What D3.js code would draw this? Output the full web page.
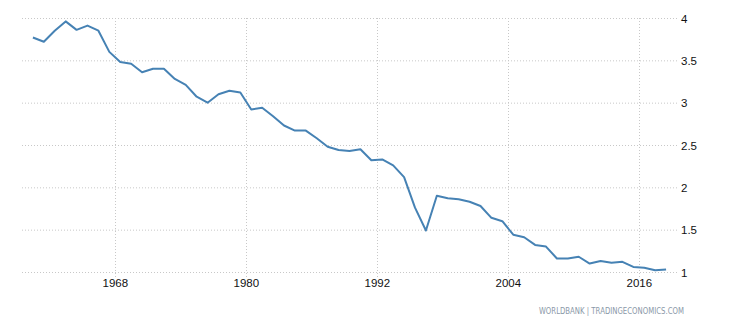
<!DOCTYPE html>
<html>
<head>
<meta charset="utf-8">
<script src="https://cdn.jsdelivr.net/npm/d3@7"></script>
<style>
  body { margin: 0; background: #fff; }
  svg { display: block; }
  .tick-label { font-family: "Liberation Sans", Arial, sans-serif; font-size: 11.5px; fill: #111; }
  .grid line { stroke: #c8c8c8; stroke-dasharray: 1,2; }
</style>
</head>
<body>
<svg width="730" height="325"></svg>
<script>
// data years and values
const years = d3.range(1960, 2019);
const values = [
  3.77, 3.72, 3.85, 3.96, 3.86, 3.91, 3.85, 3.60, 3.48, 3.46,
  3.36, 3.40, 3.40, 3.28, 3.21, 3.07, 3.00, 3.10, 3.14, 3.12,
  2.92, 2.94, 2.84, 2.73, 2.67, 2.67, 2.58, 2.48, 2.44, 2.43,
  2.45, 2.32, 2.33, 2.26, 2.12, 1.76, 1.49, 1.90, 1.87, 1.86,
  1.83, 1.78, 1.64, 1.60, 1.44, 1.41, 1.32, 1.30, 1.16, 1.16,
  1.18, 1.10, 1.13, 1.11, 1.12, 1.06, 1.05, 1.02, 1.03
];
const xTicks = [1968, 1980, 1992, 2004, 2016];
const yTicks = [1, 1.5, 2, 2.5, 3, 3.5, 4];
const source = "WORLDBANK | TRADINGECONOMICS.COM";

const svg = d3.select('svg');
const margin = { top: 18, right: 53, bottom: 53, left: 22 };
const width = 730 - margin.left - margin.right;
const height = 325 - margin.top - margin.bottom;

const g = svg.append('g')
  .attr('transform', `translate(${margin.left},${margin.top})`);

// points sit in the middle of each year
const xScale = d3.scaleLinear().domain([1959.5, 2019.5]).range([0, width]);
const yScale = d3.scaleLinear().domain([1, 4]).range([height, 0]);

// horizontal grid
g.append('g').attr('class', 'grid')
  .selectAll('line').data(yTicks).join('line')
  .attr('x1', 0).attr('x2', width)
  .attr('y1', d => yScale(d) + 0.5).attr('y2', d => yScale(d) + 0.5);

// vertical grid
g.append('g').attr('class', 'grid')
  .selectAll('line').data(xTicks).join('line')
  .attr('x1', d => Math.round(xScale(d)) + 0.5).attr('x2', d => Math.round(xScale(d)) + 0.5)
  .attr('y1', 0).attr('y2', height + 5);

// right axis labels
const yAxis = d3.axisRight(yScale).tickValues(yTicks).tickFormat(d3.format('~g')).tickSize(0).tickPadding(4);
g.append('g')
  .attr('transform', `translate(${width},0)`)
  .call(yAxis)
  .call(a => a.select('.domain').remove())
  .selectAll('text').attr('class', 'tick-label').attr('dy', '0.35em');

// bottom axis labels
const xAxis = d3.axisBottom(xScale).tickValues(xTicks).tickFormat(d3.format('d')).tickSize(0).tickPadding(7);
g.append('g')
  .attr('transform', `translate(0,${height})`)
  .call(xAxis)
  .call(a => a.select('.domain').remove())
  .selectAll('text').attr('class', 'tick-label');

// the line
const line = d3.line()
  .x((d, i) => xScale(years[i] + 0.5))
  .y(d => yScale(d));

g.append('path')
  .datum(values)
  .attr('fill', 'none')
  .attr('stroke', '#4682b4')
  .attr('stroke-width', 2)
  .attr('stroke-linejoin', 'round')
  .attr('d', line);

// source note
svg.append('text')
  .attr('x', 539).attr('y', 314)
  .attr('textLength', 145).attr('lengthAdjust', 'spacingAndGlyphs')
  .style('font-family', '"DejaVu Sans", Verdana, sans-serif')
  .style('font-size', '8px')
  .style('fill', '#8a98a8')
  .text(source);
</script>
</body>
</html>
